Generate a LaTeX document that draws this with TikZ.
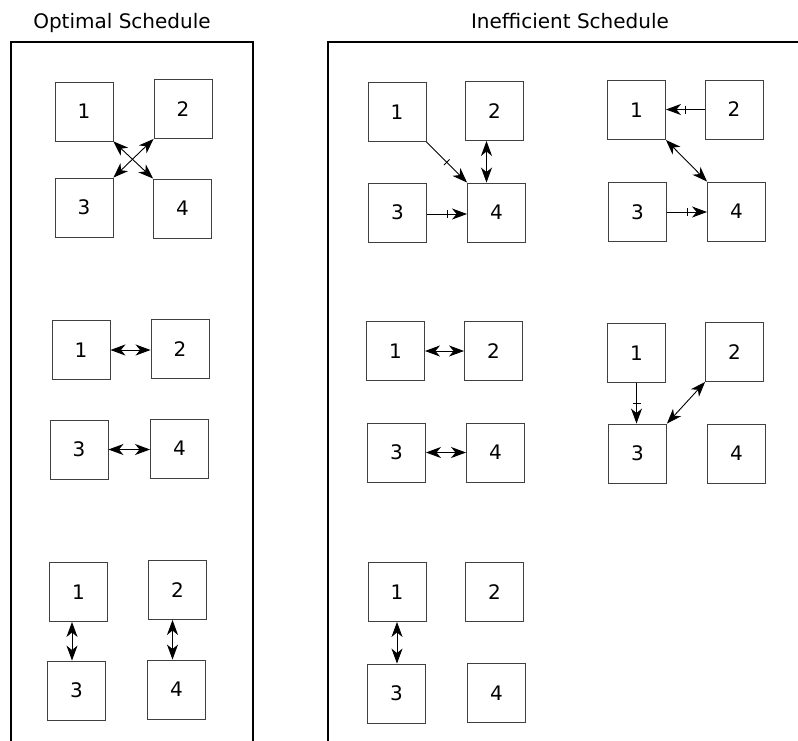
\documentclass[tikz,border=0pt]{standalone}
\usepackage{fontspec}
\setmainfont{DejaVu Sans}
\usetikzlibrary{arrows.meta,decorations.markings}

\tikzset{
  proc/.style={draw=black!75, line width=0.9pt, minimum width=58pt, minimum height=59pt,
               inner sep=0pt, font=\fontsize{20}{24}\selectfont},
  title/.style={anchor=base, font=\fontsize{20}{24}\selectfont},
  frame/.style={line width=2.6pt, line cap=rect},
  link/.style={line width=0.9pt, {Stealth[length=15pt,width=11pt,inset=4.5pt]}-{Stealth[length=15pt,width=11pt,inset=4.5pt]}},
  send/.style={line width=0.9pt, -{Stealth[length=15pt,width=11pt,inset=4.5pt]},
               decoration={markings, mark=at position 0.5 with {\draw[-, line width=0.8pt] (0,-4pt) -- (0,4pt);}},
               postaction={decorate}}
}

\begin{document}
\begin{tikzpicture}[x=1pt, y=-1pt]
\useasboundingbox (0,0) rectangle (798,740);

% panel titles and frames
\node[title] (t1) at (122,28) {Optimal Schedule};
\node[title] (t2) at (570,28) {Inefficient Schedule};
\draw[frame] (11,760) -- (11,42) -- (253,42) -- (253,760);
\draw[frame] (328,760) -- (328,42) -- (820,42);

% ---- optimal: step 1
\node[proc] (a1) at (84,111.5) {1};
\node[proc] (a2) at (183,109) {2};
\node[proc] (a3) at (84,207.5) {3};
\node[proc] (a4) at (182.5,208.5) {4};
\draw[link] (a1.south east) -- (a4.north west);
\draw[link] (a2.south west) -- (a3.north east);

% ---- optimal: step 2
\node[proc] (b1) at (81,350) {1};
\node[proc] (b2) at (180,349) {2};
\node[proc] (b3) at (79,449.5) {3};
\node[proc] (b4) at (179.5,448.5) {4};
\draw[link] (b1.east) -- (b1.east -| b2.west);
\draw[link] (b3.east) -- (b3.east -| b4.west);

% ---- optimal: step 3
\node[proc] (c1) at (78.5,592) {1};
\node[proc] (c2) at (177.5,590) {2};
\node[proc] (c3) at (76.5,690.5) {3};
\node[proc] (c4) at (176.5,689.5) {4};
\draw[link] ([xshift=-6.5pt]c1.south) -- ([xshift=-6.5pt]c1.south |- c3.north);
\draw[link] ([xshift=-5pt]c2.south) -- ([xshift=-5pt]c2.south |- c4.north);

% ---- inefficient: step 1
\node[proc] (d1) at (397,112) {1};
\node[proc] (d2) at (494.5,111) {2};
\node[proc] (d3) at (397.5,212.5) {3};
\node[proc] (d4) at (496.5,212.5) {4};
\draw[send] (d1.south east) -- (d4.north west);
\draw[link] ([xshift=-8pt]d2.south) -- ([xshift=-8pt]d2.south |- d4.north);
\draw[send] ([yshift=-1.5pt]d3.east) -- ([yshift=-1.5pt]d3.east -| d4.west);

% ---- inefficient: step 2
\node[proc] (e1) at (636.5,110) {1};
\node[proc] (e2) at (734,109.5) {2};
\node[proc] (e3) at (637.5,212) {3};
\node[proc] (e4) at (736.5,211.5) {4};
\draw[send] (e2.west) -- (e2.west -| e1.east);
\draw[link] (e1.south east) -- (e4.north west);
\draw[send] (e3.east) -- (e3.east -| e4.west);

% ---- inefficient: step 3
\node[proc] (f1) at (395.5,351) {1};
\node[proc] (f2) at (493.5,351) {2};
\node[proc] (f3) at (396.5,452.5) {3};
\node[proc] (f4) at (495.5,452.5) {4};
\draw[link] (f1.east) -- (f1.east -| f2.west);
\draw[link] (f3.east) -- (f3.east -| f4.west);

% ---- inefficient: step 4
\node[proc] (g1) at (636.5,353) {1};
\node[proc] (g2) at (734.5,352) {2};
\node[proc] (g3) at (637.5,453.5) {3};
\node[proc] (g4) at (736.5,453.5) {4};
\draw[send] (g1.south) -- (g1.south |- g3.north);
\draw[link] (g2.south west) -- (g3.north east);

% ---- inefficient: step 5
\node[proc] (h1) at (397,592) {1};
\node[proc] (h2) at (494.5,592) {2};
\node[proc] (h3) at (396.5,693.5) {3};
\node[proc] (h4) at (496.5,693) {4};
\draw[link] (h1.south) -- (h1.south |- h3.north);
\end{tikzpicture}
\end{document}
